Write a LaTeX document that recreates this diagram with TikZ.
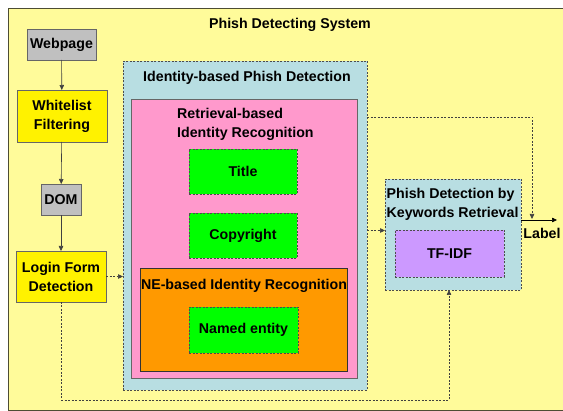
\documentclass[tikz,border=0pt]{standalone}
\usepackage{fontspec}
\setmainfont{Liberation Sans}
\usetikzlibrary{arrows.meta}
\definecolor{sysyellow}{HTML}{FFFB9A}
\definecolor{sysline}{HTML}{4D4D33}
\definecolor{graybox}{HTML}{C0C0C0}
\definecolor{idblue}{HTML}{B8DEE2}
\definecolor{pinkbox}{HTML}{FF99CC}
\definecolor{orangebox}{HTML}{FF9900}
\definecolor{purplebox}{HTML}{CC99FF}
\definecolor{edgegray}{HTML}{666666}

\begin{document}
\begin{tikzpicture}[x=1pt, y=-1pt,
  txt/.style={font=\bfseries\fontsize{14.2}{19}\selectfont, inner sep=0pt},
  box/.style={txt, draw=edgegray, line width=0.6pt, outer sep=0pt, align=center},
  dashline/.style={dash pattern=on 2pt off 1.5pt},
  dashbox/.style={box, draw=black!70, dashline},
  flow/.style={draw=black!75, line width=0.6pt, -{Triangle[length=5pt,width=4.5pt]}},
  dflow/.style={flow, dashline}]
  \clip (0,0) rectangle (563,411);
  \fill[white] (0,0) rectangle (563,411);
  % containers
  \node[box, draw=sysline, fill=sysyellow, minimum width=570pt, minimum height=402pt] (sys) at (293,209) {};
  \node[txt] (systitle) at (290,25) {Phish Detecting System};
  \node[dashbox, fill=idblue, minimum width=244pt, minimum height=329pt] (ident) at (245,225.5) {};
  \node[txt] (identtitle) at (247,78) {Identity-based Phish Detection};
  \node[box, fill=pinkbox, minimum width=226pt, minimum height=279pt] (retr) at (244,238.5) {};
  \node[txt, anchor=west, align=left] (retrtitle) at (177,124.5) {Retrieval-based\\Identity Recognition};
  \node[box, draw=black!80, fill=orangebox, minimum width=207pt, minimum height=103pt] (ne) at (243.5,319.5) {};
  \node[txt] (netitle) at (244,286) {NE-based Identity Recognition};
  \node[dashbox, fill=idblue, minimum width=136pt, minimum height=111pt] (kw) at (453,234.5) {};
  \node[txt, anchor=west, align=left] (kwtitle) at (386.5,204.5) {Phish Detection by\\Keywords Retrieval};
  % left column
  \node[box, fill=graybox, minimum width=69pt, minimum height=31pt] (web) at (61.5,44.5) {Webpage};
  \node[box, fill=yellow, minimum width=90pt, minimum height=52pt] (white) at (62,116) {Whitelist\\Filtering};
  \node[box, fill=graybox, minimum width=40pt, minimum height=31pt] (dom) at (61,199.5) {DOM};
  \node[box, fill=yellow, minimum width=90pt, minimum height=51pt] (login) at (61,276.5) {Login Form\\Detection};
  % features
  \node[dashbox, fill=green, minimum width=108pt, minimum height=45pt] (title) at (243,171.5) {Title};
  \node[dashbox, fill=green, minimum width=108pt, minimum height=45pt] (copy) at (243,235.5) {Copyright};
  \node[dashbox, fill=green, minimum width=109pt, minimum height=46pt] (named) at (243.5,330) {Named entity};
  \node[dashbox, fill=purplebox, minimum width=109pt, minimum height=47pt] (tfidf) at (449.5,253.5) {TF-IDF};
  \node[txt] (label) at (542,233) {Label};
  \coordinate (labelend) at (557,220);
  \coordinate (join) at (532,220);
  % connectors
  \draw[flow] (web) -- (white);
  \draw[flow] (white) -- (dom);
  \draw[flow] (dom) -- (login);
  \draw[dflow] (login.east) -- (login.east -| ident.west);
  \draw[dflow] ([yshift=4pt]kw.west -| ident.east) -- ([yshift=4pt]kw.west);
  \draw[flow, draw=black] (kw.east |- labelend) -- (labelend);
  \draw[dflow] ([yshift=108.5pt]ident.east) -| ([yshift=1pt]join);
  \draw[dflow] (login.south) -- ++(0,98) -| ([xshift=-4pt]kw.south);
\end{tikzpicture}
\end{document}
